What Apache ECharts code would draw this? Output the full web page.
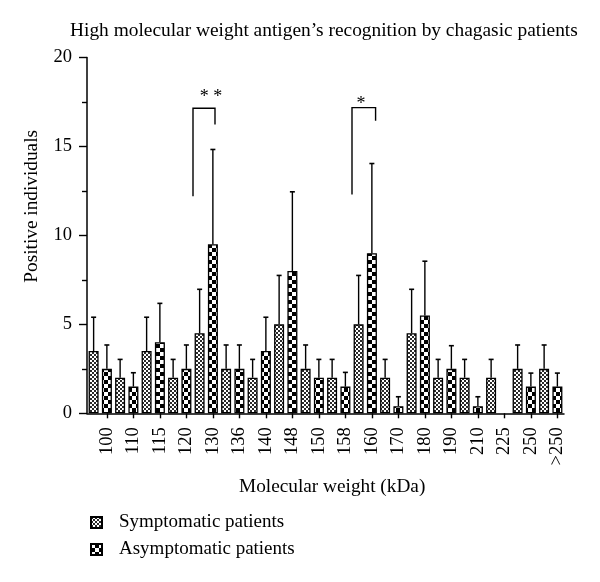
<!DOCTYPE html>
<html>
<head>
<meta charset="utf-8">
<script src="https://cdn.jsdelivr.net/npm/echarts@6/dist/echarts.min.js"></script>
<style>
html,body{margin:0;padding:0;background:#fff;}
#chart{width:600px;height:582px;}
</style>
</head>
<body>
<div id="chart"></div>
<script>
// ---- data ----
const categories = ['100','110','115','120','130','136','140','148','150','158','160','170','180','190','210','225','250','>250'];
const symptomatic = [3.5, 2, 3.5, 2, 4.5, 2.5, 2, 5, 2.5, 2, 5, 2, 4.5, 2, 2, 2, 2.5, 2.5];
const asymptomatic = [2.5, 1.5, 4, 2.5, 9.5, 2.5, 3.5, 8, 2, 1.5, 9, 0.4, 5.5, 2.5, 0.4, null, 1.5, 1.5];
const symptomaticUpper = [5.4, 3.03, 5.4, 3.03, 6.97, 3.84, 3.03, 7.75, 3.84, 3.03, 7.75, 3.03, 6.97, 3.03, 3.03, 3.03, 3.84, 3.84];
const asymptomaticUpper = [3.84, 2.28, 6.18, 3.84, 14.83, 3.84, 5.4, 12.45, 3.03, 2.3, 14.04, 0.93, 8.55, 3.8, 0.93, null, 2.26, 2.26];
const yTicks = [0, 5, 10, 15, 20];
// significance brackets (x in category units)
const bracketLeft = [3.5, 9.5];
const bracketRight = [4.33, 10.39];
const bracketTop = [17.15, 17.18];
const bracketLeftBottom = [12.2, 12.3];
const bracketRightBottom = [16.24, 16.44];
const bracketLabel = ['* *', '*'];
const bracketLabelX = [4.18, 9.84];
const bracketLabelY = [17.74, 17.36];

const FONT = '"Liberation Serif", "DejaVu Serif", serif';

function makePattern(kind) {
  const c = document.createElement('canvas');
  const ctx = c.getContext('2d');
  if (kind === 'fine') {
    c.width = 4; c.height = 4;
    ctx.fillStyle = '#ffffff'; ctx.fillRect(0, 0, 4, 4);
    ctx.fillStyle = '#2a2a2a';
    ctx.fillRect(0, 0, 2, 2); ctx.fillRect(2, 2, 2, 2);
  } else {
    c.width = 8; c.height = 8;
    ctx.fillStyle = '#000000'; ctx.fillRect(0, 0, 8, 8);
    ctx.fillStyle = '#ffffff';
    ctx.fillRect(0, 0, 4, 4); ctx.fillRect(4, 4, 4, 4);
  }
  return { image: c, repeat: 'repeat' };
}

const chart = echarts.init(document.getElementById('chart'), null, { renderer: 'canvas' });

function errRender(side) {
  return function (params, api) {
    const v = api.value(1), up = api.value(2);
    if (isNaN(v) || isNaN(up)) return null;
    const i = api.value(0);
    const base = api.coord([i, v]);
    const top = api.coord([i, up]);
    const band = api.size([1, 0])[0];
    const x = base[0] + side * band / 4;
    return {
      type: 'group',
      children: [
        { type: 'line', shape: { x1: x, y1: base[1], x2: x, y2: top[1] }, style: { stroke: '#000', lineWidth: 1.4 } },
        { type: 'line', shape: { x1: x - 2.5, y1: top[1], x2: x + 2.5, y2: top[1] }, style: { stroke: '#000', lineWidth: 1.6 } }
      ]
    };
  };
}

function xAt(api, f, y) {
  const fl = Math.floor(f);
  const band = api.size([1, 0])[0];
  const p = api.coord([fl, y]);
  return [p[0] + (f - fl) * band, p[1]];
}

const bracketData = bracketLeft.map((l, k) => [l, bracketRight[k], bracketTop[k], bracketLeftBottom[k], bracketRightBottom[k], bracketLabelX[k], bracketLabelY[k], k]);

const option = {
  animation: false,
  backgroundColor: '#ffffff',
  title: {
    text: 'High molecular weight antigen\u2019s recognition by chagasic patients',
    left: 70, top: 21, padding: 0,
    textStyle: { fontFamily: FONT, fontSize: 19.4, fontWeight: 'normal', color: '#000' }
  },
  legend: {
    orient: 'vertical', left: 90, top: 513, padding: 0,
    itemWidth: 11, itemHeight: 11, itemGap: 8,
    icon: 'rect',
    data: ['Symptomatic patients', 'Asymptomatic patients'],
    textStyle: { fontFamily: FONT, fontSize: 19, color: '#000', padding: [0, 0, 0, 12] }
  },
  graphic: [
    {
      type: 'text', left: 22, top: 130, rotation: Math.PI / 2,
      style: { text: 'Positive individuals', fontFamily: FONT, fontSize: 19.3, fill: '#000' }
    }
  ],
  grid: [
    { left: 87, width: 477, top: 57.5, height: 355.8 },
    { left: 93.65, width: 477, top: 57.5, height: 355.8 }
  ],
  xAxis: [
    {
      type: 'category', gridIndex: 0, data: categories,
      axisLine: { show: true, lineStyle: { color: '#000', width: 1.5 } },
      axisTick: { show: false }, axisLabel: { show: false }, splitLine: { show: false }
    },
    {
      type: 'category', gridIndex: 1, data: categories,
      axisLine: { show: false },
      axisTick: { show: true, alignWithLabel: true, length: 5, lineStyle: { color: '#000', width: 1.4 } },
      axisLabel: { rotate: 90, margin: 14, fontFamily: FONT, fontSize: 18.5, color: '#000' },
      name: 'Molecular weight (kDa)', nameLocation: 'middle', nameGap: 64,
      nameTextStyle: { fontFamily: FONT, fontSize: 19.3, color: '#000' }
    }
  ],
  yAxis: [
    {
      type: 'value', gridIndex: 0, min: 0, max: 20, interval: 5,
      axisLine: { show: true, lineStyle: { color: '#000', width: 1.5 } },
      axisTick: { show: true, length: 8, lineStyle: { color: '#000', width: 1.4 } },
      minorTick: { show: true, splitNumber: 2, length: 5, lineStyle: { color: '#000', width: 1.4 } },
      splitLine: { show: false },
      axisLabel: {
        margin: 15, fontFamily: FONT, fontSize: 18.5, color: '#000',
        formatter: v => (yTicks.indexOf(v) >= 0 ? String(v) : '')
      }
    },
    { type: 'value', gridIndex: 1, min: 0, max: 20, show: false }
  ],
  series: [
    {
      name: 'Symptomatic patients', type: 'bar', xAxisIndex: 0, yAxisIndex: 0,
      data: symptomatic, barWidth: 10, barGap: '33%',
      itemStyle: { color: makePattern('fine'), borderColor: '#000', borderWidth: 1.3 }
    },
    {
      name: 'Asymptomatic patients', type: 'bar', xAxisIndex: 0, yAxisIndex: 0,
      data: asymptomatic.map(v => (v == null ? '-' : v)), barWidth: 10, barGap: '33%',
      itemStyle: { color: makePattern('coarse'), borderColor: '#000', borderWidth: 1.3 }
    },
    {
      type: 'custom', xAxisIndex: 0, yAxisIndex: 0, silent: true,
      renderItem: errRender(-1),
      data: symptomatic.map((v, i) => [i, v, symptomaticUpper[i]])
    },
    {
      type: 'custom', xAxisIndex: 0, yAxisIndex: 0, silent: true,
      renderItem: errRender(1),
      data: asymptomatic.map((v, i) => [i, v == null ? '-' : v, asymptomaticUpper[i] == null ? '-' : asymptomaticUpper[i]])
    },
    {
      type: 'custom', xAxisIndex: 0, yAxisIndex: 0, silent: true,
      data: bracketData,
      renderItem: function (params, api) {
        const l = api.value(0), r = api.value(1), t = api.value(2), lb = api.value(3), rb = api.value(4);
        const lx = api.value(5), ly = api.value(6), k = api.value(7);
        const pLT = xAt(api, l, t), pLB = xAt(api, l, lb), pRT = xAt(api, r, t), pRB = xAt(api, r, rb);
        const pL = xAt(api, lx, ly);
        return {
          type: 'group',
          children: [
            { type: 'polyline', shape: { points: [pLB, pLT, pRT, pRB] }, style: { stroke: '#000', lineWidth: 1.4, fill: null } },
            { type: 'text', x: pL[0], y: pL[1], style: { text: bracketLabel[k], fontFamily: FONT, fontSize: 18, fill: '#000', align: 'center', verticalAlign: 'middle' } }
          ]
        };
      }
    }
  ]
};
chart.setOption(option);
</script>
</body>
</html>
